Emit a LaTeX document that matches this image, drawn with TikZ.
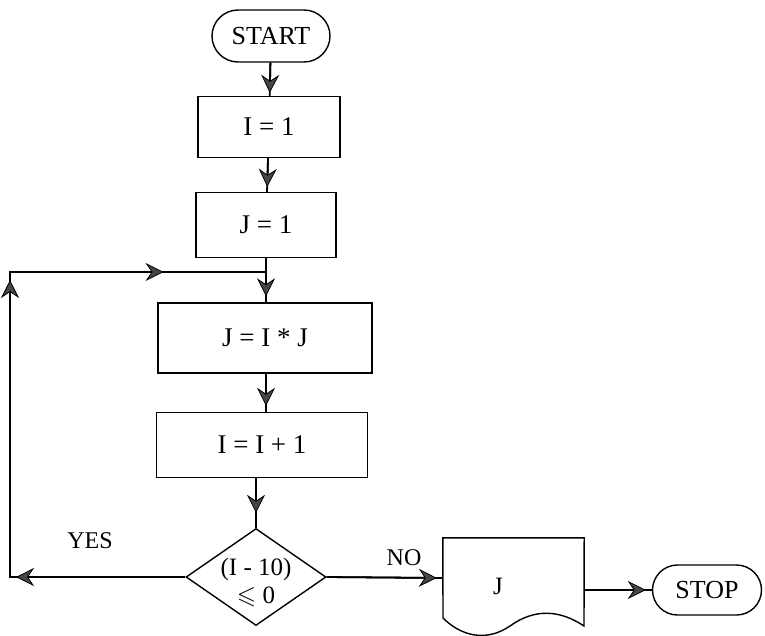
\documentclass[tikz,border=0pt]{standalone}
\usepackage{amssymb}
\usepackage{fontspec}
\setmainfont{Liberation Serif}
\usetikzlibrary{shapes.geometric,shapes.misc,arrows.meta,calc}
\tikzset{
  box/.style={draw,line width=1.4pt,rectangle,inner sep=0pt,font=\fontsize{27}{30}\selectfont},
  term/.style={draw,line width=1.4pt,rounded rectangle,inner sep=0pt,font=\fontsize{26}{30}\selectfont},
  dec/.style={draw,line width=1.4pt,diamond,inner sep=0pt},
  lbl/.style={font=\fontsize{24}{28}\selectfont,inner sep=0pt},
  conn/.style={line width=1.8pt},
  tip/.style={line width=1.8pt,-{Stealth[length=18pt,width=18pt,inset=6pt,fill=gray!55!black,line width=0.8pt]},shorten >=#1},
}
\begin{document}
\begin{tikzpicture}[x=1pt,y=-1pt]
\useasboundingbox (0,0) rectangle (765,635);
\node[term,minimum width=118pt,minimum height=52pt] (start) at (271,36) {START};
\node[box,minimum width=142pt,minimum height=61pt] (b1) at (269,127) {I = 1};
\node[box,minimum width=140pt,minimum height=65pt] (b2) at (266,225) {J = 1};
\node[box,minimum width=214pt,minimum height=70pt] (b3) at (265,338) {J = I * J};
\node[box,minimum width=211pt,minimum height=65pt] (b4) at (262,445) {I = I + 1};
\node[dec,minimum width=140pt,minimum height=97pt] (d) at (256,577) {};
\node[lbl,align=center,font=\fontsize{25}{28}\selectfont] (dt) at (256,583) {(I - 10)\\ $\leqslant$ 0};
\node[minimum width=141pt,minimum height=80pt,inner sep=0pt] (doc) at (513.5,578) {};
\node[font=\fontsize{25}{28}\selectfont] (doct) at (498,586) {J};
\draw[line width=1.4pt] (doc.north west) -- (doc.north east) -- (584,626)
  .. controls (560,610) and (535,608) .. (510,626)
  .. controls (485,643) and (460,635) .. (443,618) -- cycle;
\node[term,minimum width=109pt,minimum height=50pt] (stop) at (707,590) {STOP};
\node[lbl] (yes) at (90,541) {YES};
\node[lbl] (no) at (404,558) {NO};
\coordinate (j) at (b2.south |- 0,272);
\coordinate (c1) at (10,577);
\coordinate (c2) at (10,272);
\draw[conn] (start) -- (b1);
\draw[tip=3pt] (start) -- (b1);
\draw[conn] (b1) -- (b2);
\draw[tip=5pt] (b1) -- (b2);
\draw[conn] (b2) -- (j) -- (b3.north -| j);
\draw[tip=6pt] (j) -- (b3.north -| j);
\draw[conn] (b3.south -| j) -- (b4.north -| j);
\draw[tip=6pt] (b3.south -| j) -- (b4.north -| j);
\draw[conn] (b4.south -| d) -- (d.north);
\draw[tip=15pt] (b4.south -| d) -- (d.north);
\draw[conn] (d.west) -- (c1) -- (c2) -- (j);
\draw[tip=6pt] (d.west) -- (c1);
\draw[tip=8pt] (c1) -- (c2);
\draw[tip=0pt] (c2) -- ($(c2)!0.6!(j)$);
\draw[conn] (d.east) -- (doc.west);
\draw[tip=6pt] (d.east) -- (doc.west);
\draw[conn] (doc.east |- stop) -- (stop.west);
\draw[tip=6pt] (doc.east |- stop) -- (stop.west);
\end{tikzpicture}
\end{document}
